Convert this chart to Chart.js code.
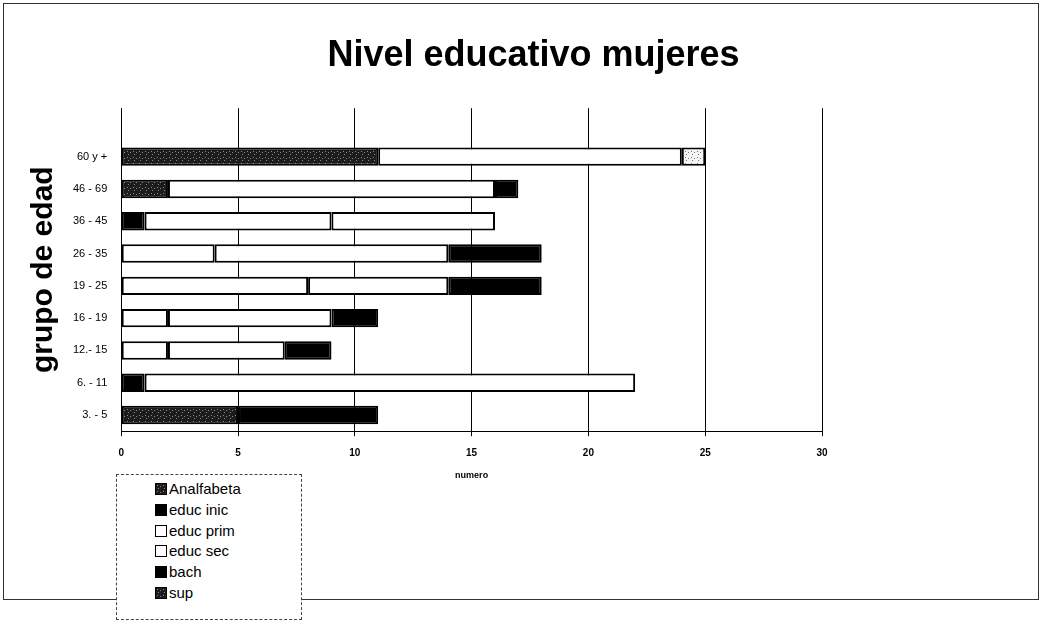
<!DOCTYPE html>
<html>
<head>
<meta charset="utf-8">
<script src="https://cdn.jsdelivr.net/npm/chart.js@4"></script>
<style>
    body { margin: 0; background: #fff; }
    #wrap { position: relative; width: 1045px; height: 626px; }
    #frame { position: absolute; left: 3px; top: 3px; width: 1036px; height: 597px; border: 1px solid #333; box-sizing: border-box; }
    #legend { position: absolute; left: 116px; top: 474px; width: 186px; height: 146px; border: 1px dashed #444; box-sizing: border-box; background: #fff;
              font-family: Arial, "Liberation Sans", sans-serif; font-size: 15px; color: #000; padding-top: 4px; }
    #legend div { height: 20.8px; line-height: 20.8px; padding-left: 38px; }
    #legend span { display: inline-block; width: 12px; height: 12px; margin-right: 2px; vertical-align: -1px; border: 1px solid #000; box-sizing: border-box; }
</style>
</head>
<body>
<div id="wrap">
    <div id="frame"></div>
    <canvas id="nivelChart" width="1045" height="626" style="position:absolute;left:0;top:0"></canvas>
    <div id="legend"></div>
</div>
<script>
// first slot is the empty row the original leaves above "60 y +"
const grupos = ['', '60 y +', '46 - 69', '36 - 45', '26 - 35', '19 - 25', '16 - 19', '12.- 15', '6. - 11', '3. - 5'];
const analfabeta = [null, 11, 2, null, null, null, null, null, null, 5];
const educInic   = [null, null, null, 1, null, null, null, null, 1, 6];
const educPrim   = [null, 13, 14, 8, 4, 8, 2, 2, 21, null];
const educSec    = [null, null, null, 7, 10, 6, 7, 5, null, null];
const bach       = [null, null, 1, null, 4, 4, 2, 2, null, null];
const sup        = [null, 1, null, null, null, null, null, null, null, null];
const xTicks = [0, 5, 10, 15, 20, 25, 30];

// little speckle patterns to imitate the scanned fills
function speckle(bg, fg) {
    const c = document.createElement('canvas');
    c.width = 6; c.height = 6;
    const g = c.getContext('2d');
    g.fillStyle = bg; g.fillRect(0, 0, 6, 6);
    g.fillStyle = fg;
    g.fillRect(1, 1, 1, 1); g.fillRect(4, 2, 1, 1); g.fillRect(2, 4, 1, 1);
    return c;
}
const analfCanvas = speckle('#1c1c1c', '#8a8a8a');
const supCanvas = speckle('#f4f4f4', '#777');
const ctx = document.getElementById('nivelChart').getContext('2d');
const analfPattern = ctx.createPattern(analfCanvas, 'repeat');
const supPattern = ctx.createPattern(supCanvas, 'repeat');

const series = [
    { label: 'Analfabeta', data: analfabeta, color: analfPattern, swatch: 'url(' + analfCanvas.toDataURL() + ')' },
    { label: 'educ inic', data: educInic, color: '#000', swatch: '#000' },
    { label: 'educ prim', data: educPrim, color: '#fff', swatch: '#fff' },
    { label: 'educ sec', data: educSec, color: '#fff', swatch: '#fff' },
    { label: 'bach', data: bach, color: '#000', swatch: '#000' },
    { label: 'sup', data: sup, color: supPattern, swatch: 'url(' + analfCanvas.toDataURL() + ')' }
];

const chart = new Chart(ctx, {
    type: 'bar',
    data: {
        labels: grupos,
        datasets: series.map(s => ({
            label: s.label,
            data: s.data,
            backgroundColor: s.color,
            borderColor: '#000',
            borderWidth: 2,
            borderSkipped: false,
            barPercentage: 0.57,
            categoryPercentage: 1
        }))
    },
    options: {
        indexAxis: 'y',
        responsive: false,
        animation: false,
        layout: { padding: { left: 22, right: 0, top: 0, bottom: 141 } },
        plugins: {
            legend: { display: false },
            tooltip: { enabled: false },
            title: {
                display: true,
                text: 'Nivel educativo mujeres',
                color: '#000',
                font: { family: 'Arial', size: 36, weight: 'bold' },
                padding: { top: 34, bottom: 31 }
            }
        },
        scales: {
            x: {
                stacked: true,
                min: 0,
                max: 30,
                afterBuildTicks: axis => { axis.ticks = xTicks.map(v => ({ value: v })); },
                grid: { color: '#000', lineWidth: 1, drawTicks: true, tickLength: 5 },
                border: { color: '#000', width: 1 },
                ticks: { color: '#000', font: { family: 'Arial', size: 10, weight: 'bold' }, padding: 11 },
                title: { display: true, text: 'numero', color: '#000', font: { family: 'Arial', size: 9, weight: 'bold' }, padding: { top: 0 } }
            },
            y: {
                stacked: true,
                grid: { display: false },
                border: { color: '#000', width: 1 },
                ticks: { color: '#000', font: { family: 'Arial', size: 11 }, padding: 6 },
                title: { display: true, text: 'grupo de edad', color: '#000', font: { family: 'Arial', size: 30, weight: 'bold' }, padding: { bottom: 5 } }
            },
            // empty axis on the right only to keep the plot area narrow
            spacer: {
                type: 'linear',
                position: 'right',
                grid: { display: false },
                border: { display: false },
                ticks: { display: false },
                afterFit: axis => { axis.width = 223; }
            }
        }
    }
});

// legend as a column in a box below the chart
const legend = document.getElementById('legend');
series.forEach(s => {
    const row = document.createElement('div');
    const box = document.createElement('span');
    box.style.background = s.swatch;
    row.appendChild(box);
    row.appendChild(document.createTextNode(s.label));
    legend.appendChild(row);
});
</script>
</body>
</html>
